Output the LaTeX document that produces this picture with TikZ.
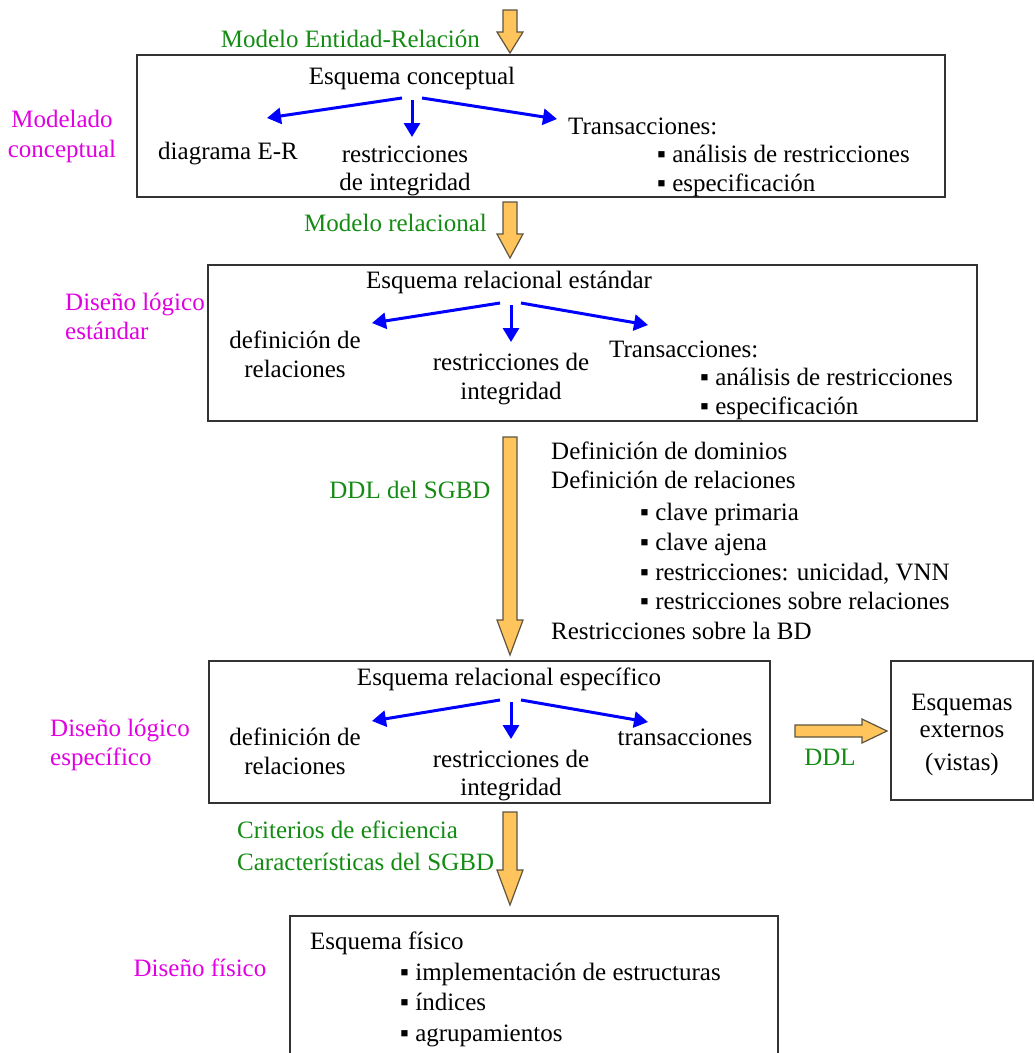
\documentclass[tikz,border=0pt]{standalone}
\usepackage{fontspec}
\setmainfont{Liberation Serif}
\usetikzlibrary{arrows.meta}
\definecolor{stagecol}{RGB}{225,0,225}
\definecolor{modelcol}{RGB}{20,140,20}
\definecolor{fatfill}{RGB}{255,196,92}
\definecolor{fatedge}{RGB}{95,85,65}
\definecolor{branchcol}{RGB}{0,0,255}

% vertical fat arrow: centre x, top y, head start y, tip y
\newcommand\fatdown[4]{%
  \draw[fatarrow] (#1-7,#2) -- (#1+7,#2) -- (#1+7,#3) -- (#1+13,#3)
    -- (#1,#4) -- (#1-13,#3) -- (#1-7,#3) -- cycle;}

\tikzset{
  fatarrow/.style={fill=fatfill,draw=fatedge,line width=1.2pt,line join=miter},
  box/.style={draw=black!80,line width=1.3pt},
  txt/.style={inner sep=0pt,font=\fontsize{25}{30}\selectfont},
  stage/.style={txt,text=stagecol},
  model/.style={txt,text=modelcol},
  branch/.style={draw=branchcol,line width=3pt,-{Triangle[length=14pt,width=16pt]}},
}

\begin{document}
\begin{tikzpicture}[x=1pt,y=-1pt]
\useasboundingbox (0,0) rectangle (1035,1053);
\clip (0,0) rectangle (1035,1053);
\fill[white] (0,0) rectangle (1035,1053);

% ---------- conceptual modelling ----------
\fatdown{510}{10}{32}{53}
\node[model,anchor=base east] (lblER) at (480,47) {Modelo Entidad-Relación};
\draw[box] (137,55) rectangle (945,197);
\node[txt,anchor=base] (conc) at (412,84) {Esquema conceptual};
\node[stage,anchor=base] (st1) at (62,127) {Modelado};
\node[stage,anchor=base] (st1b) at (62,157) {conceptual};
\node[txt,anchor=base] (er) at (228,159) {diagrama E-R};
\node[txt,anchor=base] (ri1) at (405,162) {restricciones};
\node[txt,anchor=base] (ri1b) at (405,190) {de integridad};
\node[txt,anchor=base west] (tr1) at (568,134) {Transacciones:};
\node[txt,anchor=base west] (tr1a) at (657,162) {▪ análisis de restricciones};
\node[txt,anchor=base west] (tr1b) at (657,191) {▪ especificación};
\draw[branch] (402,98) -- (267,118);
\draw[branch] (412,100) -- (412,137);
\draw[branch] (422,98) -- (557,119);

% ---------- standard logical design ----------
\fatdown{510}{202}{234}{258}
\node[model,anchor=base east] (lblRel) at (487,231) {Modelo relacional};
\draw[box] (208,265) rectangle (977,421);
\node[txt,anchor=base] (rel) at (509,288) {Esquema relacional estándar};
\node[stage,anchor=base west] (st2) at (65,310) {Diseño lógico};
\node[stage,anchor=base west] (st2b) at (65,339) {estándar};
\node[txt,anchor=base] (dr2) at (295,348) {definición de};
\node[txt,anchor=base] (dr2b) at (295,377) {relaciones};
\node[txt,anchor=base] (ri2) at (511,370) {restricciones de};
\node[txt,anchor=base] (ri2b) at (511,399) {integridad};
\node[txt,anchor=base west] (tr2) at (609,357) {Transacciones:};
\node[txt,anchor=base west] (tr2a) at (700,385) {▪ análisis de restricciones};
\node[txt,anchor=base west] (tr2b) at (700,414) {▪ especificación};
\draw[branch] (500,303) -- (372,323);
\draw[branch] (511,305) -- (511,342);
\draw[branch] (521,303) -- (648,325);

% ---------- DDL translation ----------
\fatdown{510}{437}{620}{655}
\node[model,anchor=base] (lblDDL) at (410,498) {DDL del SGBD};
\node[txt,anchor=base west] (d1) at (551,459) {Definición de dominios};
\node[txt,anchor=base west] (d2) at (551,488) {Definición de relaciones};
\node[txt,anchor=base west] (d3) at (640,520) {▪ clave primaria};
\node[txt,anchor=base west] (d4) at (640,550) {▪ clave ajena};
\node[txt,anchor=base west] (d5) at (640,580) {▪ restricciones: unicidad, VNN};
\node[txt,anchor=base west] (d6) at (640,609) {▪ restricciones sobre relaciones};
\node[txt,anchor=base west] (d7) at (551,639) {Restricciones sobre la BD};

% ---------- specific logical design ----------
\draw[box] (209,661) rectangle (770,803);
\node[txt,anchor=base] (spec) at (509,685) {Esquema relacional específico};
\node[stage,anchor=base west] (st3) at (50,736) {Diseño lógico};
\node[stage,anchor=base west] (st3b) at (50,765) {específico};
\node[txt,anchor=base] (dr3) at (295,745) {definición de};
\node[txt,anchor=base] (dr3b) at (295,774) {relaciones};
\node[txt,anchor=base] (ri3) at (511,767) {restricciones de};
\node[txt,anchor=base] (ri3b) at (511,795) {integridad};
\node[txt,anchor=base] (tr3) at (685,745) {transacciones};
\draw[branch] (500,700) -- (372,721);
\draw[branch] (511,702) -- (511,739);
\draw[branch] (521,700) -- (648,722);

% external schemas
\draw[fatarrow] (795,725) -- (862,725) -- (862,719) -- (887,731)
  -- (862,743) -- (862,737) -- (795,737) -- cycle;
\node[model,anchor=base] (lblDDL2) at (830,765) {DDL};
\draw[box] (891,661) rectangle (1033,800);
\node[txt,anchor=base] (ext1) at (962,710) {Esquemas};
\node[txt,anchor=base] (ext2) at (962,737) {externos};
\node[txt,anchor=base] (ext3) at (962,770) {(vistas)};

% ---------- physical design ----------
\fatdown{510}{812}{870}{905}
\node[model,anchor=base west] (crit1) at (237,838) {Criterios de eficiencia};
\node[model,anchor=base west] (crit2) at (237,870) {Características del SGBD};
\draw[box] (290,916) rectangle (778,1080);
\node[stage,anchor=base] (st4) at (200,976) {Diseño físico};
\node[txt,anchor=base west] (phys) at (310,949) {Esquema físico};
\node[txt,anchor=base west] (p1) at (400,980) {▪ implementación de estructuras};
\node[txt,anchor=base west] (p2) at (400,1010) {▪ índices};
\node[txt,anchor=base west] (p3) at (400,1041) {▪ agrupamientos};
\end{tikzpicture}
\end{document}
